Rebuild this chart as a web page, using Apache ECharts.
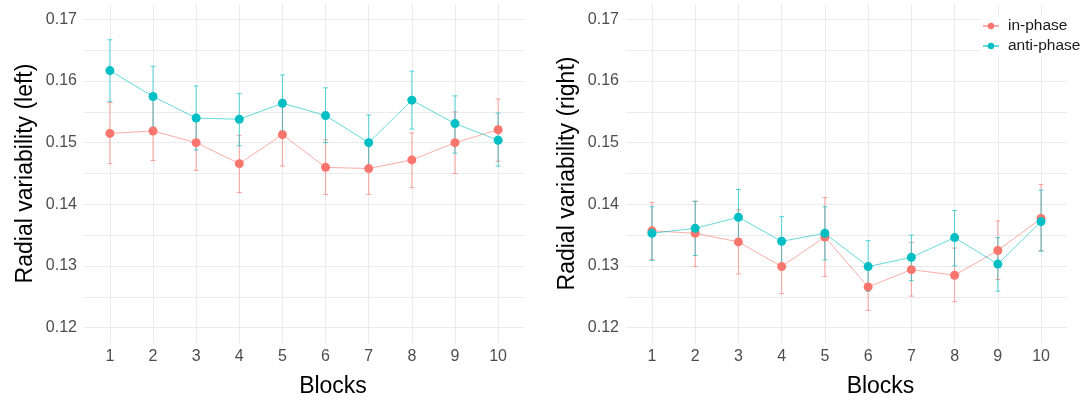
<!DOCTYPE html>
<html>
<head>
<meta charset="utf-8">
<script src="https://cdn.jsdelivr.net/npm/echarts@6/dist/echarts.min.js"></script>
<style>
  html, body { margin: 0; padding: 0; background: #fff; }
  #chart { width: 1083px; height: 403px; }
</style>
</head>
<body>
<div id="chart"></div>
<script>
const blocks = [1, 2, 3, 4, 5, 6, 7, 8, 9, 10];
const yTicks = [0.12, 0.13, 0.14, 0.15, 0.16, 0.17];
const yGrid = [0.12, 0.125, 0.13, 0.135, 0.14, 0.145, 0.15, 0.155, 0.16, 0.165, 0.17];

// left hand
const leftInMean = [0.1515, 0.1519, 0.1500, 0.1466, 0.1513, 0.1460, 0.1458, 0.1472, 0.1500, 0.1521];
const leftInLow  = [0.1466, 0.1471, 0.1455, 0.1419, 0.1462, 0.1416, 0.1416, 0.1427, 0.1450, 0.1470];
const leftInHigh = [0.1565, 0.1571, 0.1545, 0.1512, 0.1562, 0.1505, 0.1500, 0.1516, 0.1550, 0.1571];
const leftAntiMean = [0.1617, 0.1575, 0.1540, 0.1538, 0.1564, 0.1544, 0.1500, 0.1569, 0.1531, 0.1504];
const leftAntiLow  = [0.1567, 0.1525, 0.1488, 0.1495, 0.1519, 0.1500, 0.1457, 0.1522, 0.1483, 0.1462];
const leftAntiHigh = [0.1667, 0.1624, 0.1592, 0.1580, 0.1610, 0.1589, 0.1545, 0.1616, 0.1576, 0.1548];

// right hand
const rightInMean = [0.1357, 0.1353, 0.1339, 0.1299, 0.1347, 0.1266, 0.1294, 0.1285, 0.1325, 0.1377];
const rightInLow  = [0.1310, 0.1299, 0.1287, 0.1255, 0.1283, 0.1228, 0.1251, 0.1242, 0.1278, 0.1325];
const rightInHigh = [0.1403, 0.1405, 0.1391, 0.1345, 0.1411, 0.1305, 0.1338, 0.1329, 0.1373, 0.1432];
const rightAntiMean = [0.1353, 0.1361, 0.1379, 0.1340, 0.1353, 0.1299, 0.1314, 0.1346, 0.1303, 0.1372];
const rightAntiLow  = [0.1309, 0.1317, 0.1335, 0.1301, 0.1310, 0.1259, 0.1276, 0.1300, 0.1259, 0.1324];
const rightAntiHigh = [0.1396, 0.1405, 0.1424, 0.1380, 0.1396, 0.1341, 0.1350, 0.1390, 0.1346, 0.1423];

const RED = "#F8766D";
const TEAL = "#00BFC4";
const FONT = "'Liberation Sans', Arial, sans-serif";

const zip = (a, b) => a.map((v, i) => [v, b[i]]);
const zip3 = (a, b, c) => a.map((v, i) => [v, b[i], c[i]]);

function errorBars(color) {
  return function (params, api) {
    const x = api.value(0);
    const lo = api.coord([x, api.value(1)]);
    const hi = api.coord([x, api.value(2)]);
    const w = 2.5;
    const style = { stroke: color, lineWidth: 1, opacity: 0.65 };
    return {
      type: "group",
      children: [
        { type: "line", shape: { x1: lo[0], y1: lo[1], x2: hi[0], y2: hi[1] }, style },
        { type: "line", shape: { x1: lo[0] - w, y1: lo[1], x2: lo[0] + w, y2: lo[1] }, style },
        { type: "line", shape: { x1: hi[0] - w, y1: hi[1], x2: hi[0] + w, y2: hi[1] }, style },
      ],
    };
  };
}

// the x title sits a bit right of the panel centre in the original
function xAxis(idx, shift) {
  return {
    type: "value", gridIndex: idx, min: 0.4, max: 10.6,
    name: "Blocks", nameLocation: "middle", nameGap: 32,
    nameTextStyle: { fontSize: 23, color: "#000", fontFamily: FONT, padding: [0, 0, 0, shift * 2] },
    axisLine: { show: false },
    axisTick: { show: false, customValues: blocks },
    axisLabel: { customValues: blocks, fontSize: 16, color: "#4D4D4D", margin: 6, fontFamily: FONT },
    splitLine: { show: true, lineStyle: { color: "#EBEBEB", width: 1 } },
  };
}

function yAxis(idx, title) {
  return {
    type: "value", gridIndex: idx, min: 0.1175, max: 0.1725,
    name: title, nameLocation: "middle", nameGap: 47,
    nameTextStyle: { fontSize: 23, color: "#000", fontFamily: FONT },
    axisLine: { show: false },
    axisTick: { show: false, customValues: yGrid },
    axisLabel: {
      customValues: yTicks, fontSize: 16, color: "#4D4D4D", margin: 7, fontFamily: FONT,
      formatter: (v) => v.toFixed(2),
    },
    splitLine: { show: true, lineStyle: { color: "#EBEBEB", width: 1 } },
  };
}

function lineSeries(name, idx, mean, color) {
  return {
    name, type: "line", xAxisIndex: idx, yAxisIndex: idx,
    data: zip(blocks, mean),
    symbol: "circle", symbolSize: 9,
    itemStyle: { color },
    lineStyle: { color, width: 1, opacity: 0.6 },
    emphasis: { disabled: true },
    z: 3,
  };
}

function errSeries(name, idx, low, high, color) {
  return {
    name, type: "custom", xAxisIndex: idx, yAxisIndex: idx,
    data: zip3(blocks, low, high),
    encode: { x: 0, y: [1, 2] },
    renderItem: errorBars(color),
    z: 2,
  };
}

const chart = echarts.init(document.getElementById("chart"));
chart.setOption({
  animation: false,
  backgroundColor: "#fff",
  textStyle: { fontFamily: FONT },
  grid: [
    { left: 84, right: 559, top: 4, bottom: 57 },
    { left: 626, right: 16, top: 4, bottom: 57 },
  ],
  xAxis: [xAxis(0, 29), xAxis(1, 34)],
  yAxis: [yAxis(0, "Radial variability (left)"), yAxis(1, "Radial variability (right)")],
  legend: {
    data: ["in-phase", "anti-phase"],
    orient: "vertical", left: 980, top: 16,
    itemWidth: 16, itemHeight: 8, itemGap: 4,
    backgroundColor: "#fff", padding: [2, 2],
    textStyle: { fontSize: 15.5, color: "#1a1a1a", fontFamily: FONT, padding: [0, 0, 0, 4], lineHeight: 16 },
  },
  series: [
    errSeries("in-phase err", 0, leftInLow, leftInHigh, RED),
    lineSeries("in-phase", 0, leftInMean, RED),
    errSeries("anti-phase err", 0, leftAntiLow, leftAntiHigh, TEAL),
    lineSeries("anti-phase", 0, leftAntiMean, TEAL),
    errSeries("in-phase err", 1, rightInLow, rightInHigh, RED),
    lineSeries("in-phase", 1, rightInMean, RED),
    errSeries("anti-phase err", 1, rightAntiLow, rightAntiHigh, TEAL),
    lineSeries("anti-phase", 1, rightAntiMean, TEAL),
  ],
});
</script>
</body>
</html>
